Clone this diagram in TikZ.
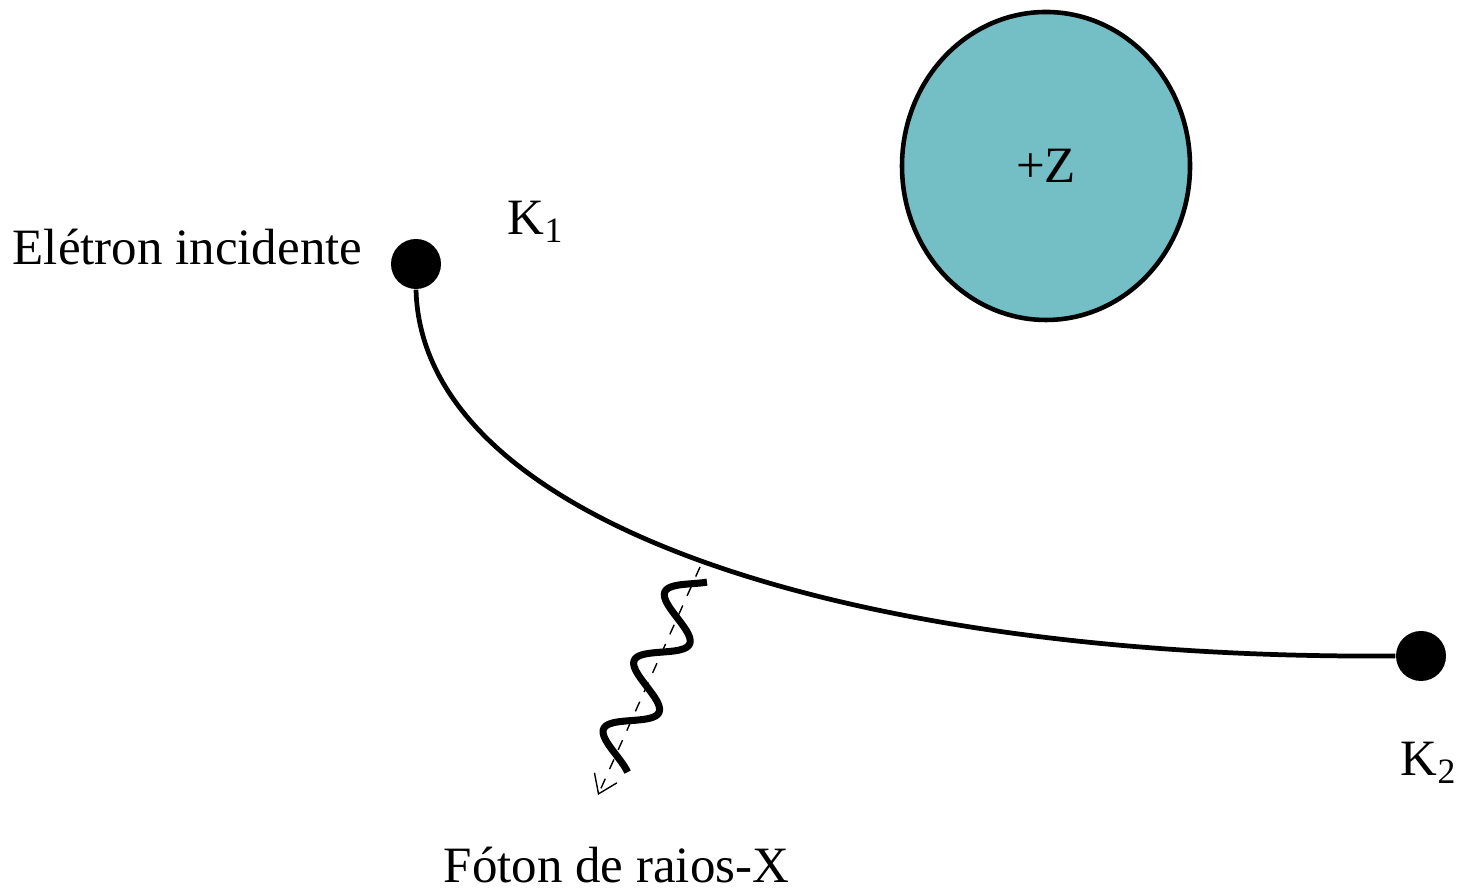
\documentclass[tikz,border=0pt]{standalone}
\usepackage{fontspec}
\setmainfont{Liberation Serif}
\usepackage{xcolor}
\usepackage{tikz}
\usetikzlibrary{shapes.geometric, arrows.meta, positioning}

\definecolor{nucleo}{RGB}{116,191,197}

\begin{document}
\begin{tikzpicture}[
    particle/.style={
        circle, fill=black, inner sep=0pt,
        minimum size=0.5cm
    },
    nucleus/.style={
        ellipse, draw=black, line width=1.3pt, fill=nucleo,
        minimum width=2.88cm, minimum height=3.08cm,
        font=\fontsize{14.5}{17}\selectfont
    },
    txt/.style={font=\fontsize{14.5}{17}\selectfont, inner sep=0pt},
    path/.style={line width=1.35pt},
    wave/.style={line width=2pt, line join=round},
    arrow/.style={-{Straight Barb[length=5pt, width=7pt]}, thin, dashed},
]
\useasboundingbox (0,0) rectangle (14.58,8.93);

%% Nucleo
\node[nucleus] (z) at (10.46,7.27) {+Z};

%% Eletron: posicoes K1 e K2
\node[particle] (k1) at (4.16,6.29) {};
\node[particle] (k2) at (14.21,2.37) {};

\node[txt, anchor=base east] (inc) at (3.63,6.28) {Elétron incidente};
\node[txt, anchor=base west] (lk1) at (5.07,6.58) {K\textsubscript{1}};
\node[txt, anchor=base west] (lk2) at (14.00,1.17) {K\textsubscript{2}};

%% Trajetoria
\draw[path] (k1.south) .. controls (4.22,3.70) and (8.50,2.33) .. (k2.west);

%% Foton
\coordinate (f0) at (7.00,3.26);
\coordinate (f1) at (5.98,0.98);
\node[txt, anchor=base west] (foton) at (4.43,0.10) {Fóton de raios-X};

\draw[arrow] (f0) -- (f1);
\begin{scope}[shift={(f0)}, rotate=245.9]
  \draw[wave] plot[domain=0.11:2.17, samples=80, smooth]
    (\x, {-0.22*cos(deg(2*pi*(\x-0.37)/0.75))});
\end{scope}

\end{tikzpicture}
\end{document}
